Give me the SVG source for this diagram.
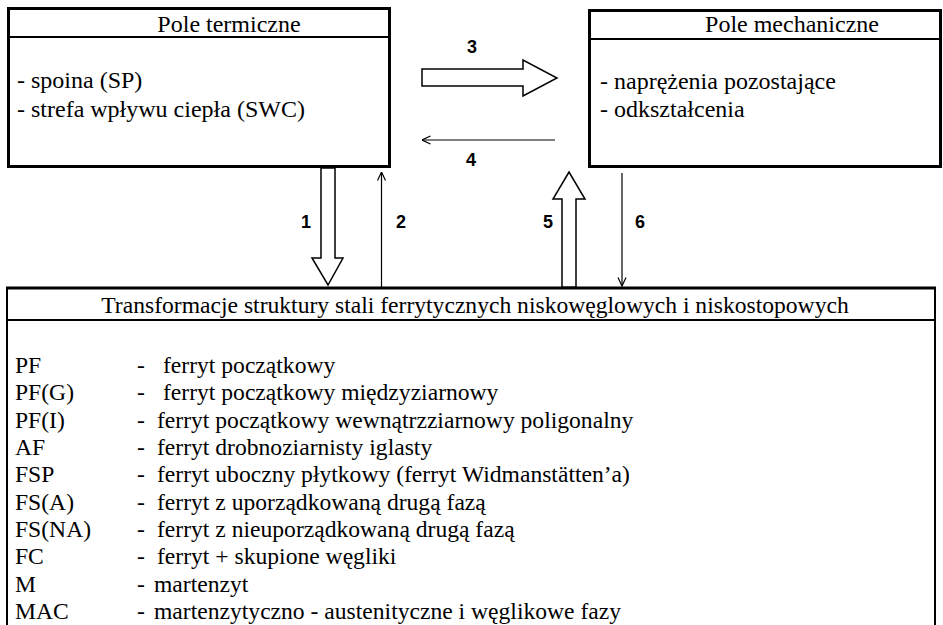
<svg xmlns="http://www.w3.org/2000/svg" width="943" height="625" viewBox="0 0 943 625">
<defs>
<marker id="open" viewBox="0 0 10 10" refX="9.5" refY="5" markerWidth="10" markerHeight="10" markerUnits="userSpaceOnUse" orient="auto">
<path d="M1,1 L9.5,5 L1,9" fill="none" stroke="#000" stroke-width="1.2"/>
</marker>
</defs>
<style>
.box{fill:#fff;stroke:#000;stroke-width:3}
.sep{stroke:#000;stroke-width:2}
.t{font-family:"Liberation Serif","Times New Roman",serif;font-size:24px;fill:#000}
.s{font-size:23.6px}
.n{font-family:"Liberation Sans",Arial,sans-serif;font-size:18px;font-weight:bold;fill:#000;text-anchor:middle}
.hollow{fill:#fff;stroke:#000;stroke-width:1.5;stroke-linejoin:miter}
.thin{fill:none;stroke:#000;stroke-width:1.2;marker-end:url(#open)}
</style>
<rect width="943" height="625" fill="#fff"/>
<g id="pole-termiczne">
<rect class="box" x="8.5" y="8.5" width="381" height="158"/>
<line class="sep" x1="8.5" y1="37" x2="389.5" y2="37"/>
<text class="t" x="229" y="32" text-anchor="middle">Pole termiczne</text>
<text class="t" x="17" y="88">- spoina (SP)</text>
<text class="t" x="17" y="117">- strefa wpływu ciepła (SWC)</text>
</g>
<g id="pole-mechaniczne">
<rect class="box" x="589.5" y="10.5" width="351" height="156"/>
<line class="sep" x1="589.5" y1="39" x2="940.5" y2="39"/>
<text class="t" x="792" y="32" text-anchor="middle">Pole mechaniczne</text>
<text class="t" x="600" y="89">-  naprężenia pozostające</text>
<text class="t" x="600" y="117">-  odkształcenia</text>
</g>
<g id="transformacje">
<path d="M7,625 V288 H935 V625" fill="#fff" stroke="#000" stroke-width="2"/>
<line x1="6" y1="288" x2="936" y2="288" stroke="#000" stroke-width="3"/>
<line class="sep" x1="7" y1="320" x2="935" y2="320"/>
<text class="t s" x="475" y="313" text-anchor="middle">Transformacje struktury stali ferrytycznych niskowęglowych i niskostopowych</text>
<text class="t s">
<tspan x="15" y="373">PF</tspan><tspan x="137">-</tspan><tspan x="163">ferryt początkowy</tspan>
<tspan x="15" y="400">PF(G)</tspan><tspan x="137">-</tspan><tspan x="163">ferryt początkowy międzyziarnowy</tspan>
<tspan x="15" y="428">PF(I)</tspan><tspan x="137">-</tspan><tspan x="157">ferryt początkowy wewnątrzziarnowy poligonalny</tspan>
<tspan x="15" y="455">AF</tspan><tspan x="137">-</tspan><tspan x="157">ferryt drobnoziarnisty iglasty</tspan>
<tspan x="15" y="482">FSP</tspan><tspan x="137">-</tspan><tspan x="157">ferryt uboczny płytkowy (ferryt Widmanstätten’a)</tspan>
<tspan x="15" y="510">FS(A)</tspan><tspan x="137">-</tspan><tspan x="157">ferryt z uporządkowaną drugą fazą</tspan>
<tspan x="15" y="537">FS(NA)</tspan><tspan x="137">-</tspan><tspan x="157">ferryt z nieuporządkowaną drugą fazą</tspan>
<tspan x="15" y="564">FC</tspan><tspan x="137">-</tspan><tspan x="157">ferryt + skupione węgliki</tspan>
<tspan x="15" y="592">M</tspan><tspan x="137">-</tspan><tspan x="154">martenzyt</tspan>
<tspan x="15" y="619">MAC</tspan><tspan x="137">-</tspan><tspan x="154">martenzytyczno - austenityczne i węglikowe fazy</tspan>
</text>
</g>
<g id="connectors">
<polygon class="hollow" points="321,168 335,168 335,258 343,258 328,285 312,258 321,258"/>
<line class="thin" x1="381.5" y1="287" x2="381.5" y2="172"/>
<polygon class="hollow" points="422,69 523,69 523,60 557,78 523,96 523,86 422,86"/>
<line class="thin" x1="555" y1="140" x2="422" y2="140"/>
<polygon class="hollow" points="562,287 562,199 553,199 569,172 585,199 576,199 576,287"/>
<line class="thin" x1="622" y1="173" x2="622" y2="286"/>
<text class="n" x="306" y="228">1</text>
<text class="n" x="401" y="228">2</text>
<text class="n" x="472" y="53">3</text>
<text class="n" x="471" y="166">4</text>
<text class="n" x="548" y="228">5</text>
<text class="n" x="640" y="228">6</text>
</g>
</svg>
